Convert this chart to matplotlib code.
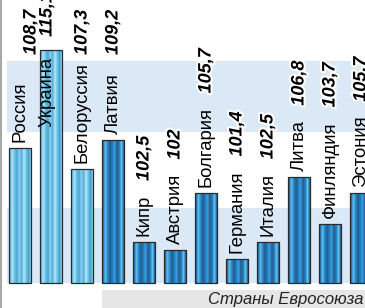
import numpy as np
import matplotlib
matplotlib.use("Agg")
import matplotlib.pyplot as plt
import matplotlib.patheffects as pe
from matplotlib.transforms import IdentityTransform, offset_copy
from matplotlib.colors import ListedColormap
from matplotlib.patches import Rectangle

# Data
countries = ["Россия", "Украина", "Белоруссия", "Латвия", "Кипр", "Австрия",
             "Болгария", "Германия", "Италия", "Литва", "Финляндия", "Эстония"]
values = [108.7, 115.1, 107.3, 109.2, 102.5, 102.0,
          105.7, 101.4, 102.5, 106.8, 103.7, 105.7]
value_labels = ["108,7", "115,1", "107,3", "109,2", "102,5", "102",
                "105,7", "101,4", "102,5", "106,8", "103,7", "105,7"]
is_eu = [False, False, False, True, True, True, True, True, True, True, True, True]
group_label = "Страны Евросоюза"
subtitle = "(декабрь 2007 г. к декабрю 2006 г., в %)"

# Style
W, H, DPI = 365, 308, 100
base = 99.83
light_stripes = ["#5fbde6", "#a8e2f8", "#63c1e8", "#4fa6d2", "#86d3f2", "#5aaed8",
                 "#b4e8f9", "#6cc7ec", "#4c9fcb", "#8ad6f3"]
dark_stripes = ["#1d6aa8", "#5cbcec", "#2589cc", "#2a5a88", "#1a80c2", "#3c9ddf",
                "#2a5a88", "#1a7fc0", "#63c2ef", "#24629a"]
band_color = "#dbe9f6"
name_font = ["Liberation Sans Narrow", "Liberation Sans", "DejaVu Sans"]
val_font = ["Liberation Sans", "DejaVu Sans"]

fig = plt.figure(figsize=(W / DPI, H / DPI), dpi=DPI)
ax = fig.add_axes([0, 0, 1, 1])
ax.set_axis_off()
xlim = (-20 / 31, (W - 20) / 31)
ylim = (base - (H - 283) / 15.26, base + 283 / 15.26)

# background bands
ax.axhspan(base, 104.75, xmin=7 / W, xmax=1, color=band_color, lw=0, zorder=0)
ax.axhspan(109.7, 114.4, xmin=7 / W, xmax=1, color=band_color, lw=0, zorder=0)

# left rule and group box
fig.add_artist(plt.Line2D([1 / W, 1 / W], [0, 1], color="#a8a8a8", lw=1.5))
fig.add_artist(Rectangle((102 / W, 0), 1, 18 / H, transform=fig.transFigure,
                         color="#e6e6e6", lw=0))
fig.text(363 / W, 4 / H, group_label, ha="right", va="baseline", fontsize=12,
         style="italic", family=val_font, color="#222222")
fig.text(0.63, 1.0 + 3 / H, subtitle, ha="center", va="baseline", fontsize=10,
         style="italic", family=val_font, color="#1f5a9a")

bw = 22.5 / 31
x = np.arange(len(values))
for i, v in enumerate(values):
    cols = dark_stripes if is_eu[i] else light_stripes
    rect = ax.bar(x[i], v - base, bottom=base, width=bw, facecolor="none",
                  edgecolor="#2a2a2a", lw=0.9, zorder=3)[0]
    im = ax.imshow(np.arange(len(cols))[None, :], cmap=ListedColormap(cols),
                   extent=(x[i] - bw / 2, x[i] + bw / 2, base, v),
                   aspect="auto", interpolation="bilinear", zorder=2)
    im.set_clip_path(rect)

ax.set_xlim(*xlim)
ax.set_ylim(*ylim)

# country names
names = []
for i, v in enumerate(values):
    if i == 1:
        t = ax.text(x[i], 0, countries[i], rotation=90, ha="center", va="bottom",
                    fontsize=13.3, family=name_font, zorder=5,
                    transform=offset_copy(ax.transData, fig, x=-4, y=0, units="dots"))
        t.set_y(base + (283 - 127) / 15.26)
    else:
        t = ax.text(x[i], v, countries[i], rotation=90, ha="center", va="bottom",
                    fontsize=13.3, family=name_font, zorder=5,
                    transform=offset_copy(ax.transData, fig, x=0, y=6, units="dots"))
    names.append(t)

fig.canvas.draw()
r = fig.canvas.get_renderer()
halo = [pe.withStroke(linewidth=3, foreground="white")]
for i, t in enumerate(names):
    bb = t.get_window_extent(r)
    xc = ax.transData.transform((x[i], 0))[0]
    if i in (0, 2, 3):
        yb = H - 55
    elif i == 1:
        yb = bb.y1 + 20
    else:
        yb = bb.y1 + 14
    dx = 11 if i == 0 else (-4 if i == 1 else 0)
    fig.text(xc + dx, yb, value_labels[i], rotation=90, ha="center", va="bottom",
             fontsize=13, weight="bold", style="italic", family=val_font,
             transform=IdentityTransform(), path_effects=halo, zorder=6)

fig.savefig("out.png", dpi=DPI)
